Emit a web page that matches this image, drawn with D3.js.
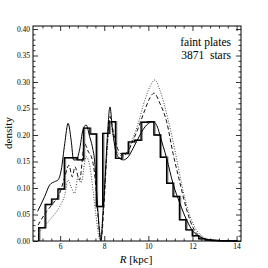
<!DOCTYPE html>
<html>
<head>
<meta charset="utf-8">
<script src="https://cdn.jsdelivr.net/npm/d3@7"></script>
<style>
  html, body { margin: 0; padding: 0; background: #fff; }
  svg { display: block; }
  text { font-family: "Liberation Serif", "DejaVu Serif", serif; fill: #000; }
</style>
</head>
<body>
<svg id="chart" width="268" height="268"></svg>
<script>
// histogram: equal bins starting at binStart
const binStart = 5.03
const binWidth = 0.29
const histValues = [0.025, 0.069, 0.079, 0.098, 0.157, 0.157, 0.153, 0.213, 0.202, 0.065,
    0.203, 0.225, 0.156, 0.165, 0.187, 0.190, 0.224, 0.225, 0.200, 0.158,
    0.109, 0.084, 0.040, 0.021, 0.010, 0.004, 0.002, 0.001, 0.0006, 0.0003, 0.0002]
const grayShift = 0.05

// model curves, [R, density]
const solidCurve = [[4.98, 0.056], [5.30, 0.084], [5.53, 0.106], [5.75, 0.112], [5.90, 0.115],
    [6.05, 0.134], [6.21, 0.184], [6.36, 0.222], [6.50, 0.190], [6.61, 0.153], [6.73, 0.153],
    [6.88, 0.172], [7.03, 0.209], [7.18, 0.219], [7.34, 0.197], [7.46, 0.178], [7.56, 0.153],
    [7.71, 0.058], [7.85, 0.0], [7.95, 0.058], [8.06, 0.134], [8.15, 0.203], [8.26, 0.253],
    [8.36, 0.216], [8.48, 0.178], [8.63, 0.159], [8.86, 0.153], [9.09, 0.159], [9.31, 0.175],
    [9.62, 0.200], [9.92, 0.219], [10.22, 0.225], [10.44, 0.212], [10.52, 0.200], [10.83, 0.156],
    [11.12, 0.108], [11.43, 0.071], [11.73, 0.040], [12.03, 0.018], [12.33, 0.008], [12.79, 0.002],
    [13.47, 0.0003], [14.0, 0.0]]
const dashedCurve = [[5.0, 0.030], [5.37, 0.055], [5.68, 0.071], [5.98, 0.090], [6.21, 0.121],
    [6.40, 0.143], [6.55, 0.121], [6.67, 0.140], [6.88, 0.115], [7.11, 0.184], [7.26, 0.170],
    [7.46, 0.153], [7.58, 0.120], [7.71, 0.050], [7.85, 0.002], [7.99, 0.070], [8.12, 0.170],
    [8.26, 0.235], [8.39, 0.210], [8.63, 0.172], [8.86, 0.162], [9.09, 0.170], [9.31, 0.190],
    [9.54, 0.213], [9.84, 0.247], [10.07, 0.270], [10.26, 0.279], [10.52, 0.260], [10.83, 0.225],
    [11.12, 0.165], [11.43, 0.110], [11.73, 0.060], [12.03, 0.025], [12.33, 0.009], [12.79, 0.002],
    [13.5, 0.0003], [14.0, 0.0]]
const dottedCurve = [[5.0, 0.015], [5.53, 0.040], [5.98, 0.065], [6.21, 0.087], [6.36, 0.115],
    [6.50, 0.102], [6.66, 0.090], [6.81, 0.121], [6.95, 0.110], [7.18, 0.159], [7.35, 0.140],
    [7.48, 0.100], [7.62, 0.050], [7.80, 0.003], [7.99, 0.080], [8.15, 0.180], [8.26, 0.228],
    [8.39, 0.200], [8.63, 0.165], [8.85, 0.160], [9.09, 0.172], [9.31, 0.195], [9.54, 0.222],
    [9.84, 0.266], [10.07, 0.291], [10.30, 0.304], [10.52, 0.285], [10.90, 0.228], [11.20, 0.172],
    [11.50, 0.109], [11.80, 0.058], [12.18, 0.021], [12.48, 0.008], [12.88, 0.002], [13.5, 0.0003],
    [14.0, 0.0]]

const xMajor = [6, 8, 10, 12, 14]
const yMajor = [0, 0.05, 0.10, 0.15, 0.20, 0.25, 0.30, 0.35, 0.40]
const labelLines = ['faint plates', '3871  stars']

const svg = d3.select('#chart')
const frame = { left: 33, right: 241, top: 26, bottom: 241 }

const x = d3.scaleLinear().domain([4.77, 14.2]).range([frame.left, frame.right])
const y = d3.scaleLinear().domain([0, 0.4057]).range([frame.bottom, frame.top])

const xMinor = d3.range(5.2, 14.2, 0.4).filter(v => !xMajor.some(m => Math.abs(m - v) < 1e-6))
const yMinor = d3.range(0.01, 0.405, 0.01).filter(v => !yMajor.some(m => Math.abs(m - v) < 1e-6))

const plot = svg.append('g')

// histograms
function histPoints(shift)
{
    const start = binStart + shift
    const pts = [[start, 0]]
    histValues.forEach((v, i) => pts.push([start + i * binWidth, v]))
    pts.push([start + histValues.length * binWidth, histValues[histValues.length - 1]])
    return pts
}

const stepLine = d3.line()
    .x(d => x(d[0]))
    .y(d => y(d[1]))
    .curve(d3.curveStepAfter)

plot.append('path')
    .attr('d', stepLine(histPoints(grayShift)))
    .attr('fill', 'none')
    .attr('stroke', '#8a8a8a')
    .attr('stroke-width', 1.4)

plot.append('path')
    .attr('d', stepLine(histPoints(0)))
    .attr('fill', 'none')
    .attr('stroke', '#000')
    .attr('stroke-width', 1.4)

// model curves
const smooth = d3.line()
    .x(d => x(d[0]))
    .y(d => y(d[1]))
    .curve(d3.curveMonotoneX)

plot.append('path')
    .attr('d', smooth(dottedCurve))
    .attr('fill', 'none')
    .attr('stroke', '#444')
    .attr('stroke-width', 1)
    .attr('stroke-dasharray', '1,1.6')

plot.append('path')
    .attr('d', smooth(dashedCurve))
    .attr('fill', 'none')
    .attr('stroke', '#111')
    .attr('stroke-width', 1)
    .attr('stroke-dasharray', '4,2.5')

plot.append('path')
    .attr('d', smooth(solidCurve))
    .attr('fill', 'none')
    .attr('stroke', '#000')
    .attr('stroke-width', 1)

// axes, ticks pointing inward on all sides
function styleAxis(g)
{
    g.select('.domain').remove()
    g.selectAll('.tick line').attr('stroke', '#000').attr('stroke-width', 0.8)
    g.selectAll('.tick text')
        .style('font-family', '"Liberation Serif", serif')
        .style('font-size', '7.5px')
}

svg.append('g')
    .attr('transform', `translate(0,${frame.bottom})`)
    .call(d3.axisBottom(x).tickValues(xMajor).tickSize(-5).tickPadding(3).tickFormat(d3.format('d')))
    .call(styleAxis)
svg.append('g')
    .attr('transform', `translate(0,${frame.bottom})`)
    .call(d3.axisBottom(x).tickValues(xMinor).tickSize(-2.5).tickFormat(''))
    .call(styleAxis)
svg.append('g')
    .attr('transform', `translate(0,${frame.top})`)
    .call(d3.axisTop(x).tickValues(xMajor).tickSize(-5).tickFormat(''))
    .call(styleAxis)
svg.append('g')
    .attr('transform', `translate(0,${frame.top})`)
    .call(d3.axisTop(x).tickValues(xMinor).tickSize(-2.5).tickFormat(''))
    .call(styleAxis)

svg.append('g')
    .attr('transform', `translate(${frame.left},0)`)
    .call(d3.axisLeft(y).tickValues(yMajor).tickSize(-5).tickPadding(3).tickFormat(d3.format('.2f')))
    .call(styleAxis)
svg.append('g')
    .attr('transform', `translate(${frame.left},0)`)
    .call(d3.axisLeft(y).tickValues(yMinor).tickSize(-2.5).tickFormat(''))
    .call(styleAxis)
svg.append('g')
    .attr('transform', `translate(${frame.right},0)`)
    .call(d3.axisRight(y).tickValues(yMajor).tickSize(-5).tickFormat(''))
    .call(styleAxis)
svg.append('g')
    .attr('transform', `translate(${frame.right},0)`)
    .call(d3.axisRight(y).tickValues(yMinor).tickSize(-2.5).tickFormat(''))
    .call(styleAxis)

// frame
svg.append('rect')
    .attr('x', frame.left)
    .attr('y', frame.top)
    .attr('width', frame.right - frame.left)
    .attr('height', frame.bottom - frame.top)
    .attr('fill', 'none')
    .attr('stroke', '#000')
    .attr('stroke-width', 1)

// axis titles
const xTitle = svg.append('text')
    .attr('x', 136)
    .attr('y', 263)
    .attr('text-anchor', 'middle')
    .style('font-size', '11px')
xTitle.append('tspan').style('font-style', 'italic').text('R')
xTitle.append('tspan').text(' [kpc]')

svg.append('text')
    .attr('transform', 'translate(12,133) rotate(-90)')
    .attr('text-anchor', 'middle')
    .style('font-size', '11px')
    .text('density')

// annotation
svg.append('g')
    .selectAll('text')
    .data(labelLines)
    .join('text')
    .attr('x', 231)
    .attr('y', (d, i) => 46 + i * 13)
    .attr('text-anchor', 'end')
    .style('font-size', '11.5px')
    .style('white-space', 'pre')
    .attr('xml:space', 'preserve')
    .text(d => d)
</script>
</body>
</html>
